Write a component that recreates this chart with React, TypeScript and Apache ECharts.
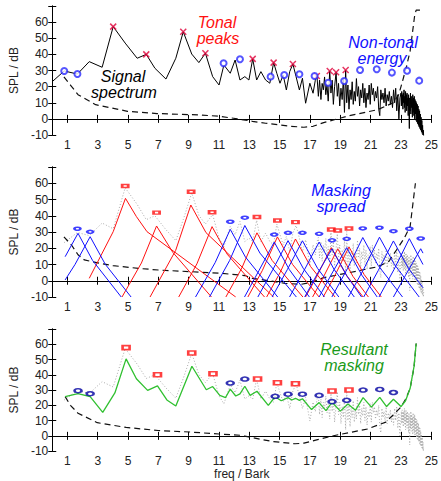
import React, { useEffect, useRef } from 'react';
import * as echarts from 'echarts';

const xTicks = [1, 3, 5, 7, 9, 11, 13, 15, 17, 19, 21, 23, 25];

// signal spectrum (Bark, dB)
const spectrum: number[][] = [
  [0.05, 23.5], [0.79, 29.7], [1.66, 27.8], [2.44, 35.5], [3.29, 32], [4.02, 57.2], [4.81, 47], [5.6, 37.6],
  [6.2, 40], [6.77, 31.4], [7.5, 24.7], [8.15, 37.6], [8.64, 54], [9.2, 40.2], [9.67, 34.9], [10.1, 40.7],
  [10.58, 26.2], [11.0, 21], [11.32, 33.4], [11.74, 28.3], [12.06, 36.5], [12.38, 24.1], [12.7, 26.2],
  [12.97, 24.1], [13.22, 37.2], [13.48, 24.1], [13.76, 29.3], [14.07, 24.1], [14.35, 22.1], [14.6, 34.9],
  [14.81, 28.3], [15.02, 22.1], [15.23, 27.2], [15.44, 17.9], [15.66, 29.3], [15.87, 34], [16.08, 26.2],
  [16.3, 17.9], [16.5, 25.2], [16.71, 9.7], [16.99, 22.1], [17.2, 15.9], [17.35, 24],
  [17.46, 26.6], [17.55, 14], [17.63, 24], [17.72, 12], [17.8, 22], [17.88, 18], [17.96, 26], [18.04, 15],
  [18.12, 21], [18.2, 11], [18.3, 29.7], [18.38, 16], [18.46, 24], [18.54, 9], [18.62, 20], [18.72, 28.9],
  [18.8, 14], [18.88, 22], [18.96, 8], [19.04, 19], [19.12, 12], [19.2, 25], [19.27, 4], [19.35, 30.3],
  [19.42, 10], [19.5, 21], [19.57, 6], [19.64, 18], [19.71, 12], [19.78, 23], [19.85, 9], [19.92, 17],
  [19.99, 11], [20.06, 25], [20.13, 14], [20.2, 20], [20.27, 8], [20.34, 18], [20.41, 13], [20.48, 22],
  [20.55, 10], [20.62, 19], [20.69, 7], [20.76, 16], [20.83, 12], [20.9, 21], [20.97, 9], [21.04, 22],
  [21.11, 15], [21.18, 19], [21.25, 11], [21.32, 17], [21.39, 13], [21.46, 20], [21.53, 6], [21.6, 2],
  [21.67, 18], [21.74, 12], [21.81, 16], [21.88, 10], [21.95, 19], [22.02, 8], [22.09, 15], [22.16, 11],
  [22.23, 17], [22.3, 9], [22.37, 14], [22.44, 7], [22.51, 18], [22.58, 10], [22.65, 19], [22.72, 5],
  [22.79, 15], [22.86, 0], [22.93, 13], [23.0, 16],
  [23.025, 8], [23.05, 17], [23.075, 9], [23.1, 15], [23.125, 6], [23.15, 16], [23.175, 10], [23.2, 18],
  [23.225, 7], [23.25, 14], [23.275, 4], [23.3, 17], [23.325, 9], [23.35, 15], [23.375, 5], [23.4, 16],
  [23.425, 8], [23.45, 13], [23.475, 2], [23.5, 15], [23.525, 6], [23.55, -6], [23.575, 13], [23.6, 5],
  [23.625, 16], [23.65, 3], [23.675, 14], [23.7, 7], [23.725, 12], [23.75, 1], [23.775, 15], [23.8, 4],
  [23.825, 13], [23.85, 2], [23.875, 14], [23.9, 0], [23.925, 12], [23.95, 3], [23.975, 11], [24.0, -1],
  [24.025, 10], [24.05, -2], [24.075, 9], [24.1, -3], [24.125, 8], [24.15, -4], [24.175, 6], [24.2, -5],
  [24.225, 5], [24.25, -6], [24.275, 3], [24.3, -7], [24.325, 1], [24.35, -8], [24.375, -1], [24.4, -9],
  [24.425, -4], [24.45, -10], [24.475, -7], [24.5, -12],
];

// absolute threshold of hearing, as drawn in each panel
const thrTop: number[][] = [
  [0.77, 26], [1.2, 21], [1.7, 15], [2.86, 8.8], [4.96, 4.7], [6.9, 3.3], [9.84, 2.4], [11, 1.6], [11.95, 0.4],
  [13.2, -1.5], [14.07, -2.7], [15.75, -4.6], [16.6, -5.2], [17.2, -4.6], [17.9, -2.3], [19.6, 2], [21.45, 5.7],
  [22.5, 10], [22.85, 15], [23.06, 22], [23.35, 32], [23.6, 42], [23.9, 64], [24.0, 67.5], [24.3, 67.5],
];
const thrMid: number[][] = [
  [0.77, 27], [1.27, 22], [1.7, 16], [2.12, 12.8], [3.18, 10.7], [4, 9.3], [5.7, 7.6], [7, 6.6], [9.1, 5.6],
  [11.1, 4.6], [12.7, 3.2], [13.2, 1.5], [14.3, 0], [15.35, -1.6], [16.4, -2.2], [17.1, -1], [17.9, 1.9],
  [19.6, 5], [21.5, 8.7], [22.2, 12], [22.7, 18.9], [23.2, 26], [23.6, 33.3], [23.95, 60],
];
const thrBot: number[][] = [
  [0.85, 25.7], [1.2, 20], [1.7, 14.8], [2.97, 8.6], [4.87, 5.5], [6.98, 3.5], [9.1, 2.5], [11, 1.2],
  [12.38, 0.4], [12.7, -0.2], [14.5, -3.7], [16, -5.2], [16.6, -4.8], [17.5, -2.5], [18.7, 0.4], [20.8, 4.5],
  [22, 9], [22.5, 13.8], [23, 18.9], [23.3, 24], [23.6, 31], [23.86, 45], [24.0, 60.5],
];

// top panel maskers
const tonalTop: number[][] = [
  [4.02, 57.2], [6.2, 40], [8.64, 54], [10.1, 40.7], [13.22, 37.2], [14.6, 34.9], [15.87, 34], [17.45, 26.6],
  [18.3, 29.7], [18.72, 28.9], [19.35, 30.3],
];
const noiseTop: number[][] = [
  [0.79, 29.7], [1.66, 27.8], [11.3, 34.5], [12.38, 37], [14.4, 26.2], [15.3, 27.2], [16.3, 27.7], [17.3, 26.6],
  [18.2, 22.4], [19.25, 23.5], [20.3, 30.3], [21.4, 30.8], [22.4, 28.7], [23.4, 29.9], [24.2, 23.7],
];

// middle panel maskers
const tonalMid: number[][] = [
  [4.81, 58.3], [6.88, 41.9], [9.16, 54.8], [10.54, 42.2], [13.5, 39.2], [14.85, 37.1], [16.04, 36.1],
  [18.4, 31.5], [18.83, 30.9], [19.57, 32.2],
];
const noiseMid: number[][] = [
  [1.66, 32], [2.5, 30.1], [11.74, 36.3], [12.7, 38.8], [14.64, 28.4], [15.55, 29.5], [16.5, 29.5], [17.6, 28.9],
  [18.45, 24.9], [19.42, 25.8], [20.48, 32.2], [21.58, 32.6], [22.5, 30.5], [23.55, 32], [24.3, 26],
];

// spreading functions (vertices, Bark/dB)
const tonalSpreads: number[][][] = [
  [[2.44, 1.5], [4.02, 30.2], [4.83, 50.7], [5.55, 39.5], [6.25, 30.2], [12.1, -10]],
  [[4.6, -10], [5.88, 10.9], [6.88, 33.7], [7.95, 17.5], [10.5, -10]],
  [[6.45, -10], [8.14, 18.7], [9.14, 46.6], [10.14, 29.6], [14.6, -10]],
  [[8.34, -10], [9.54, 10.4], [10.54, 33.3], [11.54, 16.3], [14.0, -10]],
  [[11.45, -10], [12.5, 7.8], [13.5, 29.5], [14.5, 12.5], [16.53, -10]],
  [[12.9, -10], [13.85, 6.2], [14.85, 27], [15.85, 10], [17.6, -10]],
  [[14.14, -10], [15.04, 5.3], [16.04, 25.7], [17.04, 8.7], [18.65, -10]],
  [[16.7, -10], [17.4, 1.8], [18.4, 20.4], [19.4, 3.4], [20.5, -10]],
  [[17.17, -10], [17.83, 1.3], [18.83, 19.7], [19.83, 2.7], [20.85, -10]],
  [[17.87, -10], [18.57, 1.9], [19.57, 20.8], [20.57, 3.8], [21.7, -10]],
];
const noiseSpreads: number[][][] = [
  [[0.85, 14.8], [1.7, 29.2], [2.66, 12.5], [4.55, -10]],
  [[0.85, 0.5], [1.5, 10], [2.5, 27.1], [3.5, 10.1], [5.2, -10]],
  [[9.45, -10], [10.74, 11.1], [11.74, 31.6], [12.74, 14.6], [14.87, -10]],
  [[10.37, -10], [11.7, 12.5], [12.7, 34], [13.7, 17], [16.1, -10]],
  [[12.68, -10], [13.64, 6.4], [14.64, 23.8], [15.64, 6.8], [16.96, -10]],
  [[13.56, -10], [14.55, 6.9], [15.55, 24.7], [16.55, 7.7], [17.95, -10]],
  [[14.5, -10], [15.5, 6.8], [16.5, 24.6], [17.5, 7.6], [18.9, -10]],
  [[15.65, -10], [16.6, 6.2], [17.6, 23.8], [18.6, 6.8], [19.92, -10]],
  [[16.65, -10], [17.45, 3.7], [18.45, 19.65], [19.45, 2.65], [20.4, -10]],
  [[17.6, -10], [18.42, 4.1], [19.42, 20.4], [20.42, 3.4], [21.43, -10]],
  [[18.44, -10], [19.48, 7.7], [20.48, 26.6], [21.48, 9.6], [23.1, -10]],
  [[19.53, -10], [20.58, 7.8], [21.58, 26.8], [22.58, 9.8], [24.2, -10]],
  [[20.54, -10], [21.5, 6.3], [22.5, 24.5], [23.5, 7.5], [24.45, -4.3]],
  [[21.55, -10], [22.55, 7.1], [23.55, 25.9], [24.45, 10]],
  [[22.5, -10], [23.3, 3.4], [24.3, 19.7], [24.45, 17]],
];

// bottom panel maskers and resulting global threshold
const tonalBot: number[][] = [
  [4.87, 57.8], [6.94, 40], [9.2, 54.3], [10.6, 40.7], [13.54, 37.2], [14.85, 34.8], [16.04, 34.1],
  [18.45, 29.4], [19.57, 30],
];
const noiseBot: number[][] = [
  [1.7, 29.6], [2.5, 27.6], [11.74, 34.6], [12.7, 37.2], [14.7, 25.9], [15.55, 27.3], [16.5, 27.3], [17.6, 26.5],
  [18.45, 22.4], [19.42, 23.3], [20.5, 30], [21.6, 30.4], [22.5, 28.4],
];
const globalMask: number[][] = [
  [0.85, 25.7], [1.7, 27.7], [2.5, 25.7], [3.33, 15.4], [4.13, 28.1], [4.87, 50.4], [5.55, 37.4], [6.29, 29.8],
  [6.94, 32.7], [7.56, 23.5], [8.15, 19.5], [9.21, 45.6], [10.16, 30.2], [10.58, 32.3], [11.05, 26.5],
  [11.43, 25.1], [11.74, 30.6], [12.1, 26.1], [12.38, 27.5], [12.7, 32.5], [13.05, 26.5], [13.5, 29.2],
  [14.25, 20], [14.7, 25.6], [15.1, 23], [15.55, 25], [15.8, 23.5], [16.04, 24.6], [16.3, 23.2], [16.5, 24.3],
  [17.1, 17.2], [17.6, 21.8], [18.05, 16.5], [18.45, 22], [19.0, 16.2], [19.5, 20.8], [20.0, 16.8], [20.5, 25],
  [21.05, 18.8], [21.6, 25.2], [22.05, 19.2], [22.5, 24], [23.0, 19.2], [23.3, 23], [23.6, 31], [23.86, 45.5],
  [24.0, 60.5],
];

const FONT = '"Liberation Sans", Arial, Helvetica, sans-serif';
const RED = '#ff1010';
const BLUE = '#1010ff';
const NAVY = '#0000a0';
const GREEN = '#30c030';

export default function App() {
  const ref = useRef<HTMLDivElement>(null);
  useEffect(() => {
    document.body.style.margin = '0';
    const chart = echarts.init(ref.current!, null, { renderer: 'svg' });

    const grids = [
      { left: 45, right: 2, top: 6, height: 129 },
      { left: 45, right: 2, top: 167, height: 130 },
      { left: 45, right: 2, top: 329, height: 130 },
    ];
    const xAxis: any[] = [];
    const yAxis: any[] = [];
    grids.forEach((_, g) => {
      const common = {
        gridIndex: g, type: 'value', min: 0, max: 25,
        axisLine: { show: true, lineStyle: { color: '#000', width: 1 } },
        axisTick: { show: true, inside: true, length: 4, customValues: xTicks, lineStyle: { color: '#000' } },
        splitLine: { show: false },
      };
      xAxis.push({
        ...common, position: 'bottom',
        axisLabel: { customValues: xTicks, fontSize: 12, color: '#222', fontFamily: FONT, margin: 4 },
        ...(g === 2 ? {
          name: 'freq / Bark', nameLocation: 'middle', nameGap: 13,
          nameTextStyle: { fontSize: 12, color: '#222', fontFamily: FONT },
        } : {}),
      });
      xAxis.push({ ...common, position: 'top', axisLabel: { show: false } });
      const ycommon = {
        gridIndex: g, type: 'value', min: -10, max: 70, interval: 10,
        axisLine: { show: true, lineStyle: { color: '#000', width: 1 } },
        axisTick: { show: true, inside: true, length: 4, lineStyle: { color: '#000' } },
        splitLine: { show: false },
      };
      yAxis.push({
        ...ycommon, position: 'left',
        axisLabel: {
          fontSize: 12, color: '#222', fontFamily: FONT, margin: 4,
          formatter: (v: number) => (v === 70 ? '' : String(v)),
        },
        name: 'SPL / dB', nameLocation: 'middle', nameGap: 25,
        nameTextStyle: { fontSize: 12, color: '#222', fontFamily: FONT },
      });
      yAxis.push({ ...ycommon, position: 'right', axisLabel: { show: false } });
    });

    const line = (g: number, data: number[][], lineStyle: any, z = 2) => ({
      type: 'line', xAxisIndex: 2 * g, yAxisIndex: 2 * g, data, showSymbol: false, symbol: 'none',
      lineStyle, clip: true, z, silent: true,
    });
    const scatter = (g: number, data: number[][], symbol: string, size: any, itemStyle: any) => ({
      type: 'scatter', xAxisIndex: 2 * g, yAxisIndex: 2 * g, data, symbol, symbolSize: size, itemStyle, z: 5,
      silent: true,
    });

    const shifted = spectrum.slice(1).map((p, i) => [p[0], spectrum[i][1]]);
    const dashed = { color: '#111', width: 1.2, type: [6, 4] };
    const dotted = { color: '#aaa', width: 1, type: [1, 2] };
    const cross = 'path://M0,0L10,10M10,0L0,10';

    const series: any[] = [
      line(0, spectrum, { color: '#000', width: 1 }),
      line(0, thrTop, dashed),
      scatter(0, tonalTop, cross, 6, { color: 'rgba(0,0,0,0)', borderColor: '#e0003a', borderWidth: 1.5 }),
      scatter(0, noiseTop, 'emptyCircle', 6, { color: '#2a2aff', borderColor: '#2a2aff', borderWidth: 1.1 }),

      line(1, shifted, dotted),
      line(1, thrMid, dashed),
      ...tonalSpreads.map((s) => line(1, s, { color: RED, width: 1 }, 3)),
      ...noiseSpreads.map((s) => line(1, s, { color: BLUE, width: 1 }, 3)),
      scatter(1, tonalMid, 'emptyRect', [6, 3], { color: RED, borderColor: RED, borderWidth: 1 }),
      scatter(1, noiseMid, 'emptyCircle', [6, 3], { color: BLUE, borderColor: BLUE, borderWidth: 1.1 }),

      line(2, shifted, dotted),
      line(2, thrBot, dashed),
      line(2, globalMask, { color: GREEN, width: 1.3 }, 3),
      scatter(2, tonalBot, 'emptyRect', [7, 4], { color: RED, borderColor: RED, borderWidth: 1.8 }),
      scatter(2, noiseBot, 'emptyCircle', [7, 4], { color: NAVY, borderColor: NAVY, borderWidth: 1.8 }),
    ];

    const txt = (text: string, x: number, y: number, fill: string) => ({
      type: 'text', x, y, silent: true, z: 10,
      style: {
        text, fill, fontSize: 16, fontStyle: 'italic', fontFamily: FONT,
        align: 'center', verticalAlign: 'middle',
      },
    });

    chart.setOption({
      animation: false,
      backgroundColor: '#fff',
      grid: grids,
      xAxis,
      yAxis,
      series,
      graphic: [
        txt('Tonal', 217, 22, RED),
        txt('peaks', 218, 38, RED),
        txt('Non-tonal', 383, 42, BLUE),
        txt('energy', 382, 58, BLUE),
        txt('Signal', 123, 76, '#000'),
        txt('spectrum', 124, 92, '#000'),
        txt('Masking', 341, 190, BLUE),
        txt('spread', 341, 206, BLUE),
        txt('Resultant', 354, 349, '#1a9a1a'),
        txt('masking', 354, 365, '#1a9a1a'),
      ],
    });
    return () => chart.dispose();
  }, []);
  return <div ref={ref} style={{ width: 441, height: 481 }} />;
}
